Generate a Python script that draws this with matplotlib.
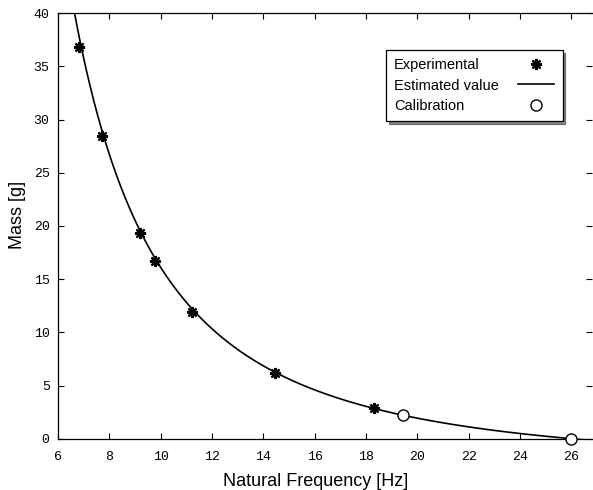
import numpy as np
import matplotlib
matplotlib.use("Agg")
import matplotlib.pyplot as plt

exp_freq = [6.82, 7.70, 9.20, 9.76, 11.23, 14.45, 18.32]
exp_mass = [36.8, 28.45, 19.3, 16.7, 11.9, 6.15, 2.85]

# Calibration points
cal_freq = [19.45, 26.0]
cal_mass = [2.2, 0.0]

xticks = [6, 8, 10, 12, 14, 16, 18, 20, 22, 24, 26]
yticks = [0, 5, 10, 15, 20, 25, 30, 35, 40]

# Estimated model m = A/f^2 - B, determined by the two calibration points
A = (cal_mass[0] - cal_mass[1]) / (1 / cal_freq[0] ** 2 - 1 / cal_freq[1] ** 2)
B = A / cal_freq[1] ** 2 - cal_mass[1]
xmin, xmax, ymax = 6, 26.8, 40
f_start = np.sqrt(A / (ymax + B))
f_line = np.linspace(f_start, xmax, 400)
m_line = A / f_line ** 2 - B

fig = plt.figure(figsize=(5.93, 4.90), dpi=100)
ax = fig.add_axes([58 / 593, 51.3 / 490, (592 - 58) / 593, (438.7 - 13.3) / 490])

ax.plot(exp_freq, exp_mass, linestyle='none', marker=(8, 2, 0), markersize=8,
        markeredgewidth=1.6, color='black', label='Experimental')
ax.plot(f_line, m_line, color='black', linewidth=1.2, label='Estimated value')
ax.plot(cal_freq, cal_mass, linestyle='none', marker='o', markersize=8,
        markerfacecolor='white', markeredgecolor='black', markeredgewidth=1.0,
        label='Calibration', clip_on=False, zorder=5)

ax.set_xlim(xmin, xmax)
ax.set_ylim(0, ymax)
ax.set_xticks(xticks)
ax.set_yticks(yticks)
ax.tick_params(direction='in', top=True, right=True, length=4, width=0.8,
               labelsize=9.5)
ax.tick_params(axis='x', pad=9)
ax.tick_params(axis='y', pad=6)
for lab in ax.get_xticklabels() + ax.get_yticklabels():
    lab.set_fontfamily('Liberation Mono')
for s in ax.spines.values():
    s.set_linewidth(0.9)
ax.spines['right'].set_visible(False)

ax.set_xlabel('Natural Frequency [Hz]', fontsize=13, family='Liberation Sans')
ax.set_ylabel('Mass [g]', fontsize=13, family='Liberation Sans')
ax.xaxis.set_label_coords(0.482, -0.080)
ax.yaxis.set_label_coords(-0.060, 0.526)

leg = ax.legend(loc='upper right', bbox_to_anchor=(562.5 / 593, 1 - 50 / 490),
                bbox_transform=fig.transFigure, markerfirst=False, frameon=True,
                fancybox=False, shadow={'color': '0.1'}, edgecolor='black',
                framealpha=1, prop={'family': 'Liberation Sans', 'size': 10.5},
                handlelength=2.5, handletextpad=1.3, labelspacing=0.45,
                borderpad=0.55, borderaxespad=0)
leg.get_frame().set_linewidth(0.9)

# left-align the legend labels while keeping the handles in one column
fig.canvas.draw()
renderer = fig.canvas.get_renderer()
texts = leg.get_texts()
widths = [t.get_window_extent(renderer).width for t in texts]
maxw = max(widths)
px_per_pt = fig.dpi / 72.0
base_sep = 1.3 * 10.5
rows = [r for col in leg._legend_handle_box.get_children() for r in col.get_children()]
for row, w in zip(rows, widths):
    row.sep = base_sep + (maxw - w) / px_per_pt

fig.savefig('out.png', dpi=100)
